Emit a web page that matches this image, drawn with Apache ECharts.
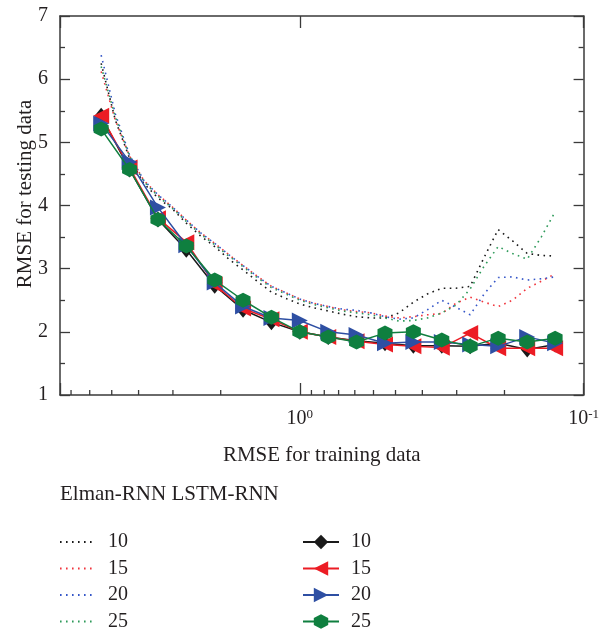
<!DOCTYPE html>
<html>
<head>
<meta charset="utf-8">
<script src="https://cdn.jsdelivr.net/npm/echarts@6/dist/echarts.min.js"></script>
<style>
html,body{margin:0;padding:0;background:#fff;}
#chart{width:602px;height:633px;}
</style>
</head>
<body>
<div id="chart"></div>
<script>
// ---- data ----
const xElman = [5.012,4.467,3.981,3.548,3.162,2.818,2.512,2.239,1.995,1.778,1.585,1.413,1.259,1.122,1.000,0.891,0.794,0.708,0.631,0.562,0.501,0.447,0.398,0.355,0.316,0.282,0.251,0.224,0.200,0.178,0.158,0.141,0.126];
const elman10 = [6.25,5.35,4.75,4.35,4.12,3.95,3.72,3.52,3.35,3.15,2.98,2.8,2.63,2.53,2.44,2.38,2.33,2.28,2.24,2.22,2.22,2.3,2.47,2.6,2.69,2.69,2.72,3.18,3.62,3.44,3.24,3.21,3.2];
const elman15 = [6.12,5.35,4.78,4.4,4.17,3.98,3.77,3.57,3.4,3.22,3.05,2.88,2.72,2.62,2.52,2.45,2.4,2.35,2.32,2.3,2.25,2.22,2.24,2.27,2.29,2.45,2.55,2.47,2.4,2.5,2.69,2.8,2.92];
const elman20 = [6.38,5.45,4.8,4.4,4.17,3.98,3.77,3.57,3.4,3.22,3.05,2.88,2.72,2.62,2.52,2.45,2.4,2.36,2.34,2.3,2.24,2.2,2.22,2.35,2.5,2.39,2.27,2.6,2.86,2.87,2.82,2.84,2.87];
const elman25 = [6.2,5.4,4.78,4.38,4.15,3.96,3.75,3.55,3.38,3.2,3.03,2.86,2.7,2.6,2.5,2.43,2.38,2.33,2.3,2.27,2.22,2.17,2.18,2.22,2.3,2.42,2.68,3.04,3.35,3.24,3.15,3.5,3.9];

const xLSTM = [5.012,3.981,3.162,2.512,1.995,1.585,1.259,1.0,0.794,0.631,0.501,0.398,0.316,0.251,0.200,0.158,0.126];
const lstm10 = [5.42,4.57,3.78,3.30,2.73,2.35,2.15,2.0,1.92,1.86,1.82,1.78,1.78,1.77,1.82,1.72,1.8];
const lstm15 = [5.42,4.6,3.8,3.42,2.75,2.37,2.2,2.0,1.92,1.85,1.8,1.77,1.75,1.98,1.74,1.74,1.74];
const lstm20 = [5.3,4.69,3.97,3.37,2.78,2.4,2.22,2.18,2.0,1.95,1.82,1.84,1.84,1.8,1.77,1.92,1.82];
const lstm25 = [5.21,4.57,3.78,3.36,2.82,2.5,2.23,2.0,1.92,1.84,1.98,2.0,1.87,1.77,1.9,1.84,1.9];

const xMinorTicks = [6.4,5.5,4.6,3.7,2.8,1.9,0.91,0.82,0.73,0.64,0.55,0.46,0.37,0.28,0.19];
const groupNames = ['10','15','20','25'];
const headerText = 'Elman-RNN LSTM-RNN';
const xTitle = 'RMSE for training data';
const yTitle = 'RMSE for testing data';

// ---- styles ----
const FONT = '"Liberation Serif","DejaVu Serif",serif';
const TXT = '#231f20';
const AX = '#3a3a3a';
const colors = ['#1a1a1a','#ec1c24','#2e4fa3','#0f7f3f'];
const dotColors = ['#1a1a1a','#f0353d','#3556c8','#2e9a5a'];
const hexPath = 'path://M0,-10 L8.66,-5 L8.66,5 L0,10 L-8.66,5 L-8.66,-5 Z';
const symbols = ['diamond','triangle','triangle',hexPath];
const symRot = [0,90,-90,0];
const symSize = [[13,16],16,16,15];

function pairs(xs, ys){ return xs.map((x,i)=>[x, ys[i]]); }
const elmanData = [elman10, elman15, elman20, elman25];
const lstmData = [lstm10, lstm15, lstm20, lstm25];

const series = [];
elmanData.forEach((d,i)=>{
  series.push({
    name: 'Elman ' + groupNames[i], type:'line', xAxisIndex:0, yAxisIndex:0,
    data: pairs(xElman, d), symbol:'none', smooth:false, z:2,
    lineStyle:{color:dotColors[i], width:1.6, type:[1.6,4.4]},
    itemStyle:{color:dotColors[i]}
  });
});
const lstmOrder = [0,2,1,3];
lstmOrder.forEach(i=>{
  series.push({
    name: 'LSTM ' + groupNames[i], type:'line', xAxisIndex:0, yAxisIndex:0,
    data: pairs(xLSTM, lstmData[i]), symbol: symbols[i], symbolSize: symSize[i],
    symbolRotate: symRot[i], showSymbol:true, z:3+i,
    lineStyle:{color:colors[i], width:1.5},
    itemStyle:{color:colors[i]}
  });
});
// minor ticks on the bottom x axis, placed through the axis scale
series.push({
  type:'custom', xAxisIndex:0, yAxisIndex:0, silent:true, z:10,
  data: xMinorTicks.map(v=>[v,1]),
  renderItem: function(params, api){
    const p = api.coord([api.value(0), api.value(1)]);
    return {type:'line', shape:{x1:p[0], y1:p[1], x2:p[0], y2:p[1]-5},
            style:{stroke:AX, lineWidth:1.3}};
  }
});

function xLabel(v){
  if (Math.abs(v-1) < 1e-6) return '10{s|0}';
  if (Math.abs(v-0.1) < 1e-6) return '10{s|-1}';
  return '';
}
const labelRich = {s:{fontFamily:FONT, fontSize:13, color:TXT, verticalAlign:'top', padding:[0,0,8,0]}};

const legendText = {fontFamily:FONT, fontSize:20, color:TXT, lineHeight:20, padding:[0,0,0,7]};

const option = {
  animation:false,
  backgroundColor:'#fff',
  grid:{left:60, right:15, top:16, bottom:238, containLabel:false},
  xAxis:[{
    type:'log', logBase:10, min:0.1, max:7, inverse:true, position:'bottom',
    name: xTitle, nameLocation:'middle', nameGap:50,
    nameTextStyle:{fontFamily:FONT, fontSize:21, color:TXT},
    axisLine:{show:true, lineStyle:{color:AX, width:1.5}},
    axisTick:{show:true, inside:true, length:12, lineStyle:{color:AX, width:1.3}},
    minorTick:{show:false},
    splitLine:{show:false},
    axisLabel:{show:true, formatter:xLabel, fontFamily:FONT, fontSize:20, color:TXT, margin:13, rich:labelRich, showMinLabel:true, showMaxLabel:true}
  },{
    type:'log', logBase:10, min:0.1, max:7, inverse:true, position:'top',
    axisLine:{show:true, lineStyle:{color:AX, width:1.5}},
    axisTick:{show:true, inside:true, length:12, lineStyle:{color:AX, width:1.3}},
    splitLine:{show:false}, axisLabel:{show:false}
  }],
  yAxis:[{
    type:'value', min:1, max:7, interval:1, position:'left',
    axisLine:{show:true, lineStyle:{color:AX, width:1.5}},
    axisTick:{show:true, inside:true, length:10, lineStyle:{color:AX, width:1.3}},
    minorTick:{show:true, splitNumber:2, length:5, lineStyle:{color:AX, width:1.3}},
    splitLine:{show:false},
    axisLabel:{fontFamily:FONT, fontSize:20, color:TXT, margin:12}
  },{
    type:'value', min:1, max:7, interval:1, position:'right',
    axisLine:{show:true, lineStyle:{color:AX, width:1.5}},
    axisTick:{show:true, inside:true, length:10, lineStyle:{color:AX, width:1.3}},
    minorTick:{show:true, splitNumber:2, length:5, lineStyle:{color:AX, width:1.3}},
    splitLine:{show:false}, axisLabel:{show:false}
  }],
  legend:[{
    data: groupNames.map(g=>'Elman '+g),
    orient:'vertical', left:59, top:532, padding:0, height:110,
    itemWidth:36, itemHeight:18, itemGap:6.5,
    itemStyle:{opacity:0},
    formatter: n=>n.split(' ')[1], selectedMode:false,
    textStyle:legendText
  },{
    data: groupNames.map(g=>'LSTM '+g),
    orient:'vertical', left:302, top:532, padding:0, height:110,
    itemWidth:36, itemHeight:18, itemGap:6.5,
    formatter: n=>n.split(' ')[1], selectedMode:false,
    textStyle:legendText
  }],
  graphic:[{
    type:'text', left:60, top:484,
    style:{text:headerText, font:'21px '+FONT, fill:TXT}
  },{
    type:'text', x:25, y:194, rotation:Math.PI/2,
    style:{text:yTitle, font:'21px '+FONT, fill:TXT, align:'center', verticalAlign:'middle'}
  }],
  series: series
};
const chart = echarts.init(document.getElementById('chart'), null, {renderer:'canvas'});
chart.setOption(option);
</script>
</body>
</html>
